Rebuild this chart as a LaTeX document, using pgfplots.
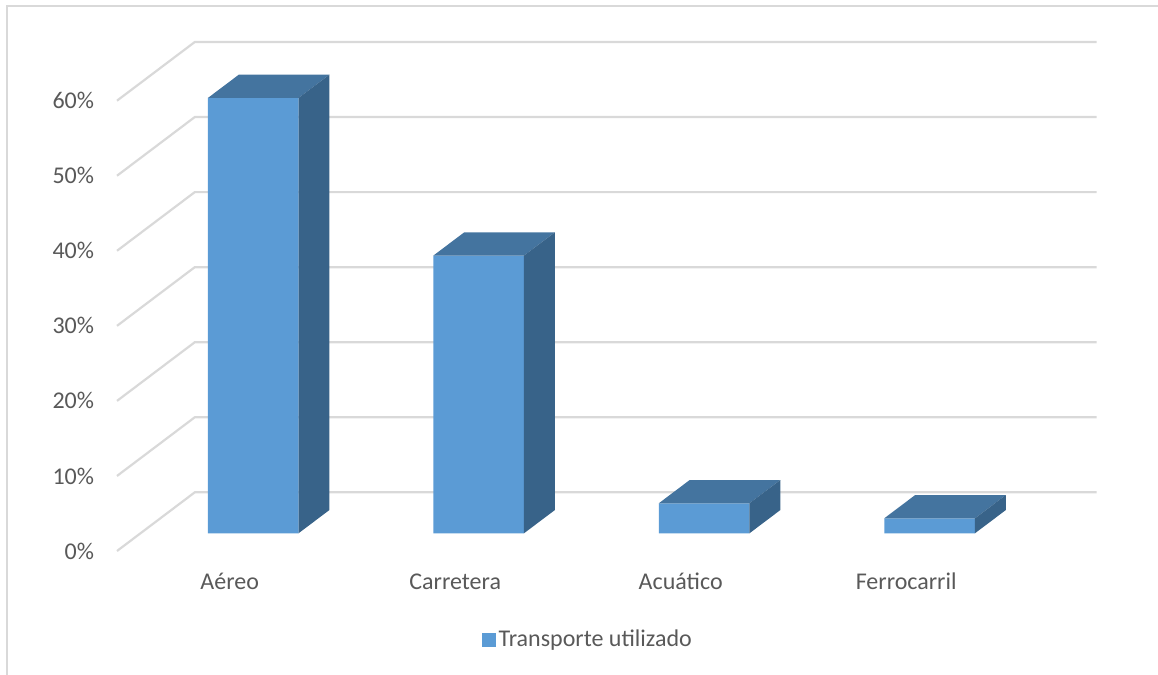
\documentclass[border=0pt]{standalone}
\usepackage{fontspec}
\setmainfont{Carlito}
\usepackage{pgfplots}
\usepackage{pgfplotstable}
\pgfplotsset{compat=1.18}
\definecolor{barfront}{HTML}{5B9BD5}
\definecolor{bartop}{HTML}{44749F}
\definecolor{barside}{HTML}{386389}
\definecolor{gridc}{HTML}{D9D9D9}
\definecolor{framec}{HTML}{D9D9D9}
\definecolor{txt}{HTML}{595959}

\pgfplotstableread{
cat v
0 58
1 37
2 4
3 2
}\bars

% oblique projection constants (axis units)
\def\off{0.104}  % bar front-centre shift in x
\def\hw{0.201}   % half bar width
\def\ddx{0.137}  % bar depth in x
\def\ddy{3.10}   % bar depth in y
\def\oy{2.36}    % bar front base above the front zero line
\def\Dx{0.345}   % wall depth in x
\def\Dy{7.82}    % wall depth in y

\begin{document}
\begin{tikzpicture}
\path[use as bounding box] (0,0) rectangle (579pt,-337.5pt);
\draw[framec, line width=0.6pt] (3.5pt,-337.5pt) -- (3.5pt,-3pt) -- (579pt,-3pt);
\begin{axis}[
  at={(58.5pt,-275.5pt)}, anchor=south west,
  scale only axis, width=489.85pt, height=254.5pt,
  xmin=-0.5, xmax=3.845, ymin=0, ymax=67.82,
  clip=false,
  axis line style={draw=none},
  major tick length=0pt,
  ytick={0,10,...,60},
  yticklabel={\pgfmathprintnumber{\tick}\%},
  xtick={0,1,2,3},
  xticklabels={Aéreo,Carretera,Acuático,Ferrocarril},
  /pgf/number format/assume math mode=true,
  ticklabel style={font=\fontsize{12}{14}\selectfont, text=txt, inner sep=0pt},
  yticklabel style={anchor=east, xshift=-11.3pt},
  xticklabel style={anchor=base, yshift=-19pt},
  legend style={at={(0.481,-0.175)}, anchor=center, draw=none, fill=none,
    font=\fontsize{12}{14}\selectfont, text=txt, inner sep=0pt,
    nodes={inner sep=1.2pt}},
  legend image code/.code={\fill[barfront] (0pt,-3.5pt) rectangle (7pt,3.5pt);},
]
% back-wall gridlines and left-wall diagonals
\pgfplotsinvokeforeach{0,10,...,60}{
  \draw[gridc, line width=1.1pt] (axis cs:-0.5,#1) -- (axis cs:{-0.5+\Dx},{#1+\Dy}) -- (axis cs:3.845,{#1+\Dy});
}
\pgfplotstablegetrowsof{\bars}
\pgfmathtruncatemacro\nrows{\pgfplotsretval-1}
\pgfplotsforeachungrouped \r in {0,...,\nrows}{
  \pgfplotstablegetelem{\r}{cat}\of\bars \let\c\pgfplotsretval
  \pgfplotstablegetelem{\r}{v}\of\bars \let\val\pgfplotsretval
  \pgfmathsetmacro\xl{\c+\off-\hw}
  \pgfmathsetmacro\xr{\c+\off+\hw}
  \pgfmathsetmacro\xlb{\xl+\ddx}
  \pgfmathsetmacro\xrb{\xr+\ddx}
  \pgfmathsetmacro\yb{\oy}
  \pgfmathsetmacro\yt{\oy+\val}
  \pgfmathsetmacro\ybb{\oy+\ddy}
  \pgfmathsetmacro\ytb{\oy+\val+\ddy}
  \edef\doit{%
   \noexpand\addplot[fill=barfront,draw=none,forget plot] coordinates {(\xl,\yb) (\xr,\yb) (\xr,\yt) (\xl,\yt) (\xl,\yb)};
   \noexpand\addplot[fill=bartop,draw=none,forget plot] coordinates {(\xl,\yt) (\xr,\yt) (\xrb,\ytb) (\xlb,\ytb) (\xl,\yt)};
   \noexpand\addplot[fill=barside,draw=none,forget plot] coordinates {(\xr,\yb) (\xrb,\ybb) (\xrb,\ytb) (\xr,\yt) (\xr,\yb)};
  }\doit
}
\addlegendimage{fill=barfront, draw=none}
\addlegendentry{Transporte utilizado}
\end{axis}
\end{tikzpicture}
\end{document}
